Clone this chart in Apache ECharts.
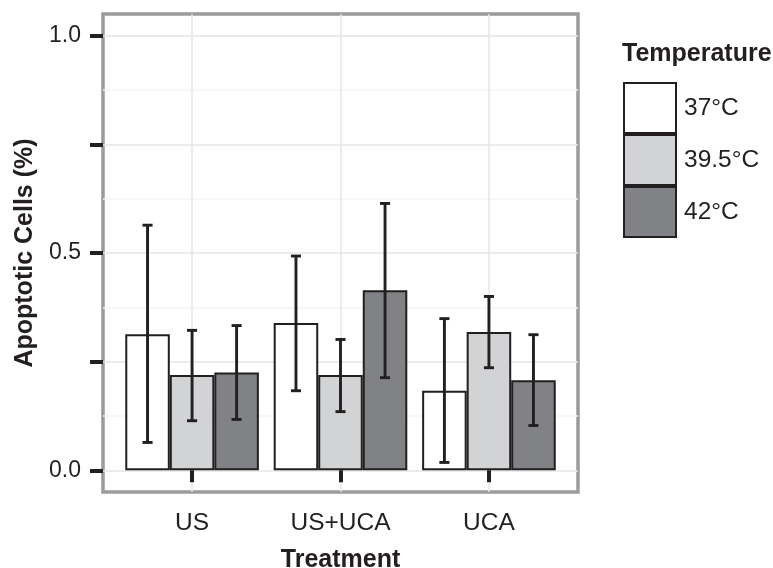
<!DOCTYPE html>
<html>
<head>
<meta charset="utf-8">
<script src="https://cdn.jsdelivr.net/npm/echarts@6/dist/echarts.min.js"></script>
<style>html,body{margin:0;padding:0;background:#fff;}#c{width:773px;height:568px;}</style>
</head>
<body>
<div id="c"></div>
<script>
const categories = ['US', 'US+UCA', 'UCA'];
const temperatures = ['37°C', '39.5°C', '42°C'];
const mean37 = [0.313, 0.339, 0.183];
const low37 = [0.064, 0.183, 0.018];
const high37 = [0.564, 0.493, 0.349];
const mean395 = [0.219, 0.219, 0.318];
const low395 = [0.114, 0.135, 0.236];
const high395 = [0.322, 0.301, 0.400];
const mean42 = [0.225, 0.414, 0.207];
const low42 = [0.117, 0.213, 0.103];
const high42 = [0.333, 0.614, 0.312];
const yTickValues = [0, 0.25, 0.5, 0.75, 1.0];
const yLabelValues = [0, 0.5, 1.0];
const yMinorValues = [0.125, 0.375, 0.625, 0.875];
const xPositions = [1, 2, 3];

const FONT = '"Liberation Sans", Arial, Helvetica, sans-serif';
const INK = '#231F20';
const fills = ['#FFFFFF', '#D1D3D4', '#808285'];
const means = [mean37, mean395, mean42];
const lows = [low37, low395, low42];
const highs = [high37, high395, high42];

const series = [];
temperatures.forEach((t, k) => {
  series.push({
    name: t, type: 'bar',
    barGap: '0%', barCategoryGap: '10%',
    data: means[k].map((v, i) => [xPositions[i], v]),
    itemStyle: { color: fills[k], borderColor: INK, borderWidth: 2 },
    emphasis: { disabled: true }
  });
});
const errData = [];
temperatures.forEach((t, k) => {
  categories.forEach((c, i) => errData.push([xPositions[i], lows[k][i], highs[k][i], k]));
});
series.push({
  name: 'err', type: 'custom', z: 5,
  data: errData,
  renderItem: function (params, api) {
    const x = api.value(0), lo = api.value(1), hi = api.value(2), k = api.value(3);
    const band = api.size([1, 0])[0];
    const off = (k - 1) * band * 0.3;
    const pLo = api.coord([x, lo]);
    const pHi = api.coord([x, hi]);
    const cx = pLo[0] + off;
    const cap = band * 0.034;
    const st = { stroke: INK, lineWidth: 2.9 };
    return { type: 'group', children: [
      { type: 'line', shape: { x1: cx, y1: pLo[1], x2: cx, y2: pHi[1] }, style: st },
      { type: 'line', shape: { x1: cx - cap, y1: pHi[1], x2: cx + cap, y2: pHi[1] }, style: st },
      { type: 'line', shape: { x1: cx - cap, y1: pLo[1], x2: cx + cap, y2: pLo[1] }, style: st }
    ]};
  }
});

const chart = echarts.init(document.getElementById('c'), null, { renderer: 'canvas' });
chart.setOption({
  animation: false,
  backgroundColor: '#fff',
  textStyle: { fontFamily: FONT },
  title: {
    text: 'Temperature', left: 622, top: 42, padding: 0,
    textStyle: { fontFamily: FONT, fontWeight: 'bold', fontSize: 25, color: INK }
  },
  legend: {
    data: temperatures, orient: 'vertical', left: 623, top: 82, padding: 0,
    itemWidth: 52, itemHeight: 50, itemGap: 0, icon: 'rect',
    itemStyle: { borderWidth: 2, borderColor: INK },
    textStyle: { fontFamily: FONT, fontSize: 24.5, color: INK, padding: [0, 0, 0, 3] },
    selectedMode: false
  },
  grid: {
    left: 103, top: 14, width: 475, height: 478,
    outerBoundsMode: 'none', containLabel: false,
    show: true, backgroundColor: '#fff', borderColor: '#9A9B9D', borderWidth: 3.5
  },
  xAxis: {
    type: 'value', min: 0.4, max: 3.6,
    name: 'Treatment', nameLocation: 'middle', nameGap: 56,
    nameTextStyle: { fontFamily: FONT, fontWeight: 'bold', fontSize: 25, color: INK },
    axisLine: { show: false },
    axisTick: { show: true, customValues: xPositions, length: 12, lineStyle: { color: INK, width: 4 } },
    axisLabel: { customValues: xPositions, margin: 19, fontFamily: FONT, fontSize: 24.5, color: INK,
      formatter: v => categories[Math.round(v) - 1] },
    splitLine: { show: true, lineStyle: { color: '#E6E6E6', width: 1.5 } }
  },
  yAxis: [{
    type: 'value', min: -0.05, max: 1.05,
    name: 'Apoptotic Cells (%)', nameLocation: 'middle', nameGap: 65,
    nameTextStyle: { fontFamily: FONT, fontWeight: 'bold', fontSize: 25, color: INK },
    axisLine: { show: false },
    axisTick: { show: true, customValues: yTickValues, length: 13, lineStyle: { color: INK, width: 4 } },
    axisLabel: { customValues: yLabelValues, margin: 22, fontFamily: FONT, fontSize: 23, color: INK,
      formatter: v => v.toFixed(1) },
    splitLine: { show: true, lineStyle: { color: '#E6E6E6', width: 1.5 } }
  }, {
    type: 'value', min: -0.05, max: 1.05, position: 'left',
    axisLine: { show: false },
    axisTick: { show: false, customValues: yMinorValues },
    axisLabel: { show: false, customValues: yMinorValues },
    splitLine: { show: true, lineStyle: { color: '#F5F5F5', width: 1.5 } }
  }],
  series: series
});
</script>
</body>
</html>
